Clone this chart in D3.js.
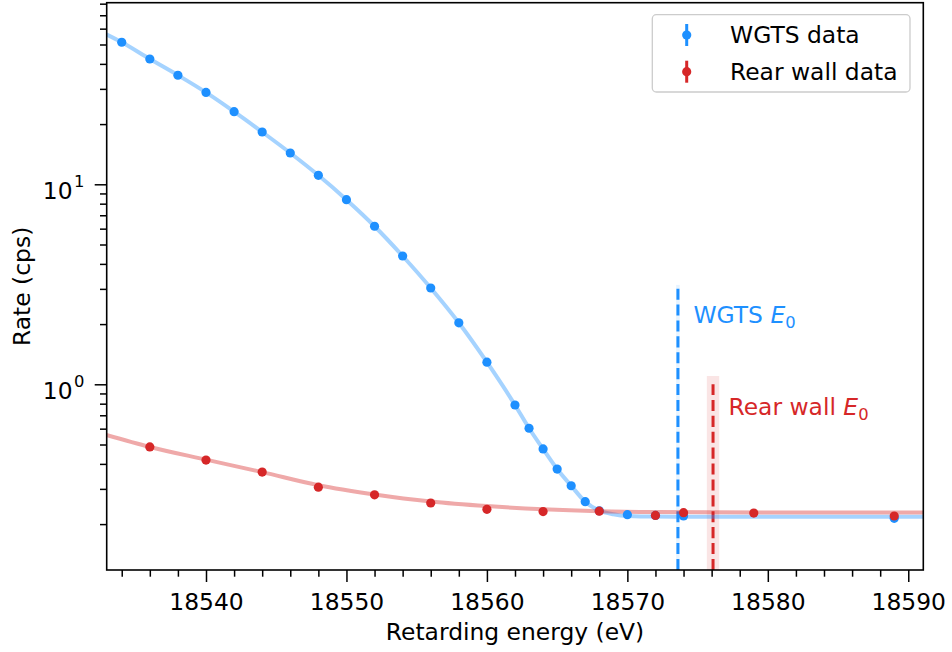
<!DOCTYPE html>
<html><head><meta charset="utf-8">
<script src="https://cdn.jsdelivr.net/npm/d3@7"></script>
<style>
body{margin:0;background:#fff}
svg{display:block}
text{font-family:"DejaVu Sans",sans-serif}
</style>
</head><body>
<svg id="c" width="952" height="652"></svg>
<script>
// ---- data ----
const wgtsEnergy = [18534,18536,18538,18540,18542,18544,18546,18548,18550,18552,18554,18556,18558,18560,18562,18563,18564,18565,18566,18567,18568,18570,18572,18574,18589];
const wgtsRate   = [51.3,42.3,35.1,28.8,23.07,18.26,14.34,11.09,8.375,6.17,4.38,3.03,2.03,1.29,0.788,0.603,0.475,0.377,0.311,0.259,0.233,0.2229,0.221,0.2195,0.2138];

const rearEnergy = [18536,18540,18544,18548,18552,18556,18560,18564,18568,18572,18574,18579,18589];
const rearRate   = [0.486,0.418,0.364,0.306,0.280,0.255,0.237,0.231,0.232,0.221,0.228,0.227,0.2195];

const wgtsFitEnergy = [18532.9,18534,18536,18538,18540,18542,18544,18546,18548,18550,18552,18554,18556,18558,18560,18562,18563,18564,18565,18566,18567,18568,18569,18570,18572,18575,18591.1];
const wgtsFitRate   = [56.2,51.3,42.3,35.1,28.8,23.07,18.26,14.34,11.09,8.375,6.17,4.38,3.03,2.03,1.29,0.788,0.603,0.475,0.377,0.311,0.259,0.234,0.224,0.2195,0.2180,0.2178,0.2178];

const rearFitEnergy = [18532.9,18536,18540,18544,18548,18552,18556,18560,18564,18568,18572,18580,18591.1];
const rearFitRate   = [0.558,0.486,0.420,0.364,0.313,0.2814,0.2594,0.2460,0.2370,0.2318,0.2296,0.2285,0.2284];

const e0Names   = ["WGTS", "Rear wall"];
const e0Energy  = [18573.6, 18576.1];
const e0Unc     = [0.13, 0.44];
const e0LineTop = [3.0, 1.0];
const e0BandTop = [3.14, 1.1];
const e0LabelE  = [18574.7, 18577.2];
const e0LabelR  = [2.02, 0.702];

const xMajorTicks = [18540,18550,18560,18570,18580,18590];
const xMinorTicks = d3.range(18534, 18591, 2).filter(v => v % 10 !== 0);
const yMajorTicks = [1, 10];
const yTickExp    = ["0", "1"];
const yMinorTicks = [0.2,0.3,0.4,0.5,0.6,0.7,0.8,0.9,2,3,4,5,6,7,8,9,20,30,40,50,60,70,80];

const legendLabels = ["WGTS data", "Rear wall data"];
const colors = ["#1e90ff", "#d62728"];

// ---- layout ----
const L = 106.7, R = 923.3, T = 2.7, B = 570;
const FS = 23.4;
const svg = d3.select("#c");
const x = d3.scaleLinear().domain([18532.93, 18591.07]).range([L, R]);
const y = d3.scaleLog().domain([0.1179, 80.9]).range([B, T]);

const clipId = "clipPlot";
svg.append("defs").append("clipPath").attr("id", clipId)
  .append("rect").attr("x", L).attr("y", T).attr("width", R - L).attr("height", B - T);
const plot = svg.append("g").attr("clip-path", `url(#${clipId})`);

// E0 bands and dashed lines
e0Energy.forEach((e, i) => {
  plot.append("rect")
    .attr("x", x(e - e0Unc[i])).attr("width", x(e + e0Unc[i]) - x(e - e0Unc[i]))
    .attr("y", y(e0BandTop[i])).attr("height", B - y(e0BandTop[i]))
    .attr("fill", colors[i]).attr("fill-opacity", i === 0 ? 0.1 : 0.12);
});
e0Energy.forEach((e, i) => {
  plot.append("line")
    .attr("x1", x(e)).attr("x2", x(e))
    .attr("y1", B).attr("y2", y(e0LineTop[i]))
    .attr("stroke", colors[i]).attr("stroke-width", 3)
    .attr("stroke-dasharray", "11.1,4.8");
});

// fit curves
const line = d3.line().x(d => x(d[0])).y(d => y(d[1])).curve(d3.curveMonotoneX);
plot.append("path").datum(d3.zip(wgtsFitEnergy, wgtsFitRate))
  .attr("d", line).attr("fill", "none").attr("stroke", colors[0])
  .attr("stroke-opacity", 0.4).attr("stroke-width", 4);
plot.append("path").datum(d3.zip(rearFitEnergy, rearFitRate))
  .attr("d", line).attr("fill", "none").attr("stroke", colors[1])
  .attr("stroke-opacity", 0.4).attr("stroke-width", 4);

// data points
plot.append("g").selectAll("circle").data(d3.zip(wgtsEnergy, wgtsRate)).join("circle")
  .attr("cx", d => x(d[0])).attr("cy", d => y(d[1])).attr("r", 4.6).attr("fill", colors[0]);
plot.append("g").selectAll("circle").data(d3.zip(rearEnergy, rearRate)).join("circle")
  .attr("cx", d => x(d[0])).attr("cy", d => y(d[1])).attr("r", 4.6).attr("fill", colors[1]);

// E0 labels
e0Energy.forEach((e, i) => {
  const t = svg.append("text").attr("x", x(e0LabelE[i])).attr("y", y(e0LabelR[i]))
    .attr("fill", colors[i]).attr("font-size", FS);
  t.append("tspan").text(e0Names[i] + " ");
  t.append("tspan").attr("font-style", "italic").text("E");
  t.append("tspan").attr("font-size", FS * 0.7).attr("dy", 5).text("0");
});

// axes
const axX = svg.append("g").attr("transform", `translate(0,${B})`)
  .call(d3.axisBottom(x).tickValues(xMajorTicks).tickSize(12).tickSizeOuter(0).tickPadding(6).tickFormat(d3.format("d")));
const axXm = svg.append("g").attr("transform", `translate(0,${B})`)
  .call(d3.axisBottom(x).tickValues(xMinorTicks).tickSize(6.7).tickSizeOuter(0).tickFormat(""));
const axY = svg.append("g").attr("transform", `translate(${L},0)`)
  .call(d3.axisLeft(y).tickValues(yMajorTicks).tickSize(12).tickSizeOuter(0).tickFormat(""));
const axYm = svg.append("g").attr("transform", `translate(${L},0)`)
  .call(d3.axisLeft(y).tickValues(yMinorTicks).tickSize(6.7).tickSizeOuter(0).tickFormat(""));
[axX, axXm, axY, axYm].forEach(g => {
  g.select(".domain").remove();
  g.selectAll(".tick line").attr("stroke", "#000").attr("stroke-width", 1.5);
});
axX.selectAll(".tick text").attr("font-size", FS).attr("fill", "#000")
  .attr("font-family", "DejaVu Sans").attr("dy", "0.95em");

// y tick labels with superscripts
yMajorTicks.forEach((v, i) => {
  const t = svg.append("text").attr("x", 84.5).attr("y", y(v) + 14.4)
    .attr("text-anchor", "end").attr("font-size", FS).attr("fill", "#000");
  t.append("tspan").text("10");
  t.append("tspan").attr("font-size", FS * 0.7).attr("dx", 1.5).attr("dy", -11.7).text(yTickExp[i]);
});

// frame
svg.append("rect").attr("x", L).attr("y", T).attr("width", R - L).attr("height", B - T)
  .attr("fill", "none").attr("stroke", "#000").attr("stroke-width", 1.6);

// axis labels
svg.append("text").attr("x", (L + R) / 2).attr("y", 640).attr("text-anchor", "middle")
  .attr("font-size", FS).attr("fill", "#000").text("Retarding energy (eV)");
svg.append("text").attr("transform", `translate(30,${(T + B) / 2}) rotate(-90)`)
  .attr("text-anchor", "middle").attr("font-size", FS).attr("fill", "#000").text("Rate (cps)");

// legend
const lg = svg.append("g");
lg.append("rect").attr("x", 652.3).attr("y", 14.7).attr("width", 257.7).attr("height", 77.3)
  .attr("rx", 4).attr("fill", "#fff").attr("fill-opacity", 0.8)
  .attr("stroke", "#cccccc").attr("stroke-width", 1.3);
legendLabels.forEach((lab, i) => {
  const cy = 35 + i * 36.7;
  lg.append("line").attr("x1", 686.7).attr("x2", 686.7).attr("y1", cy - 11).attr("y2", cy + 11)
    .attr("stroke", colors[i]).attr("stroke-width", 3);
  lg.append("circle").attr("cx", 686.7).attr("cy", cy).attr("r", 4.6).attr("fill", colors[i]);
  lg.append("text").attr("x", 730).attr("y", cy + 8.4).attr("font-size", FS).attr("fill", "#000").text(lab);
});
</script>
</body></html>
